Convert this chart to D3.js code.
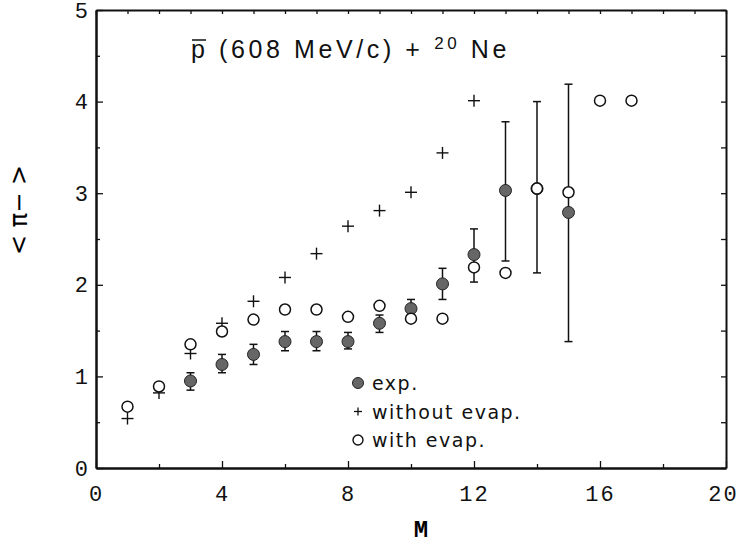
<!DOCTYPE html>
<html>
<head>
<meta charset="utf-8">
<script src="https://cdn.jsdelivr.net/npm/d3@7"></script>
<style>
  body { margin: 0; background: #fff; }
  .tick text { font-family: "Liberation Mono", "DejaVu Sans Mono", monospace; font-size: 22px; fill: #111; }
  .legend text { font-family: "DejaVu Sans", sans-serif; font-size: 19px; letter-spacing: 1.5px; fill: #111; }
</style>
</head>
<body>
<svg id="chart" width="739" height="545"></svg>
<script>
// multiplicity M
var mPlus = [1, 2, 3, 4, 5, 6, 7, 8, 9, 10, 11, 12];
var withoutEvap = [0.54, 0.82, 1.25, 1.58, 1.82, 2.08, 2.34, 2.64, 2.81, 3.01, 3.44, 4.01];

var mOpen = [1, 2, 3, 4, 5, 6, 7, 8, 9, 10, 11, 12, 13, 14, 15, 16, 17];
var withEvap = [0.67, 0.89, 1.35, 1.49, 1.62, 1.73, 1.73, 1.65, 1.77, 1.63, 1.63, 2.19, 2.13, 3.05, 3.01, 4.01, 4.01];

var mExp = [3, 4, 5, 6, 7, 8, 9, 10, 11, 12, 13, 14, 15];
var expVal = [0.95, 1.13, 1.24, 1.38, 1.38, 1.38, 1.58, 1.74, 2.01, 2.33, 3.03, 3.05, 2.79];
var expLo  = [0.85, 1.04, 1.13, 1.28, 1.28, 1.30, 1.48, 1.65, 1.84, 2.03, 2.26, 2.13, 1.38];
var expHi  = [1.04, 1.24, 1.35, 1.49, 1.49, 1.48, 1.67, 1.84, 2.18, 2.61, 3.78, 4.00, 4.19];

var xMajor = [0, 4, 8, 12, 16, 20];
var xMinor = [2, 6, 10, 14, 18];
var yMajor = [0, 1, 2, 3, 4, 5];
var yMinor = [0.5, 1.5, 2.5, 3.5, 4.5];

var legendItems = ['exp.', 'without evap.', 'with evap.'];

var svg = d3.select('#chart');
var margin = {left: 96, right: 13, top: 10, bottom: 77};
var width = +svg.attr('width');
var height = +svg.attr('height');

var x = d3.scaleLinear().domain([0, 20]).range([margin.left, width - margin.right]);
var y = d3.scaleLinear().domain([0, 5]).range([height - margin.bottom, margin.top]);

// axes (ticks point inward)
var gx = svg.append('g').attr('transform', `translate(0,${y(0)})`)
    .call(d3.axisBottom(x).tickValues(xMajor).tickSize(-7).tickSizeOuter(0).tickPadding(17).tickFormat(d3.format('d')));
svg.append('g').attr('transform', `translate(0,${y(0)})`)
    .call(d3.axisBottom(x).tickValues(xMinor).tickSize(-4).tickSizeOuter(0).tickFormat(''));
svg.append('g').attr('transform', `translate(0,${y(5)})`)
    .call(d3.axisTop(x).ticks(20).tickSize(-4).tickSizeOuter(0).tickFormat(''));

var gy = svg.append('g').attr('transform', `translate(${x(0)},0)`)
    .call(d3.axisLeft(y).tickValues(yMajor).tickSize(-7).tickSizeOuter(0).tickPadding(8).tickFormat(d3.format('d')));
svg.append('g').attr('transform', `translate(${x(0)},0)`)
    .call(d3.axisLeft(y).tickValues(yMinor).tickSize(-4).tickSizeOuter(0).tickFormat(''));
svg.append('g').attr('transform', `translate(${x(20)},0)`)
    .call(d3.axisRight(y).tickValues(yMajor.concat(yMinor)).tickSize(-5).tickSizeOuter(0).tickFormat(''));

svg.selectAll('.domain').attr('stroke', '#111').attr('stroke-width', 2);
svg.selectAll('.tick line').attr('stroke', '#111').attr('stroke-width', 1.3);
gx.selectAll('.tick text').attr('letter-spacing', '2px');
gx.selectAll('.tick text').filter(d => d === 20).attr('dx', -3);

// axis titles
svg.append('text').text('M')
    .attr('x', 421).attr('y', 537)
    .attr('text-anchor', 'middle')
    .style('font-family', '"Liberation Mono", monospace')
    .style('font-weight', 'bold')
    .style('font-size', '24px');

svg.append('text').text('< π− >')
    .attr('transform', 'translate(27,210) rotate(-90)')
    .attr('text-anchor', 'middle')
    .style('font-family', '"DejaVu Sans", sans-serif')
    .style('font-size', '24px');

// title
var title = svg.append('text')
    .attr('x', 191).attr('y', 58)
    .style('font-family', '"Liberation Sans", Arial, sans-serif')
    .style('font-size', '25px')
    .style('letter-spacing', '3.6px')
    .attr('fill', '#111');
title.append('tspan').text('p');
title.append('tspan').text(' (608 MeV/c) + ');
title.append('tspan').text('20').style('font-size', '17px').attr('dy', -9);
title.append('tspan').text(' Ne').attr('dy', 9);
svg.append('line')
    .attr('x1', 192).attr('x2', 206).attr('y1', 40).attr('y2', 40)
    .attr('stroke', '#111').attr('stroke-width', 1.5);

var plot = svg.append('g');

// plus markers: without evaporation
function plus(g, cx, cy, s) {
    g.append('line').attr('x1', cx - s).attr('x2', cx + s).attr('y1', cy).attr('y2', cy);
    g.append('line').attr('x1', cx).attr('x2', cx).attr('y1', cy - s).attr('y2', cy + s);
}
var plusG = plot.append('g').attr('stroke', '#111').attr('stroke-width', 1.4);
mPlus.forEach((m, i) => plus(plusG, x(m), y(withoutEvap[i]), 6));

// error bars
var errG = plot.append('g').attr('stroke', '#111').attr('stroke-width', 1.5);
mExp.forEach((m, i) => {
    errG.append('line').attr('x1', x(m)).attr('x2', x(m)).attr('y1', y(expLo[i])).attr('y2', y(expHi[i]));
    [expLo[i], expHi[i]].forEach(v => {
        errG.append('line').attr('x1', x(m) - 4).attr('x2', x(m) + 4).attr('y1', y(v)).attr('y2', y(v));
    });
});

// filled circles: experiment
plot.append('g').selectAll('circle').data(mExp).enter().append('circle')
    .attr('cx', d => x(d))
    .attr('cy', (d, i) => y(expVal[i]))
    .attr('r', 6)
    .attr('fill', '#666')
    .attr('stroke', '#222')
    .attr('stroke-width', 1);

// open circles: with evaporation
plot.append('g').selectAll('circle').data(mOpen).enter().append('circle')
    .attr('cx', d => x(d))
    .attr('cy', (d, i) => y(withEvap[i]))
    .attr('r', 5.5)
    .attr('fill', '#fff')
    .attr('stroke', '#111')
    .attr('stroke-width', 1.5);

// legend
var legend = svg.append('g').attr('class', 'legend');
legendItems.forEach((t, i) => {
    var ly = 383 + i * 28.5;
    if (i === 0) {
        legend.append('circle').attr('cx', 358).attr('cy', ly).attr('r', 5.5)
            .attr('fill', '#666').attr('stroke', '#222');
    } else if (i === 1) {
        var pg = legend.append('g').attr('stroke', '#111').attr('stroke-width', 1.3);
        plus(pg, 358, ly, 4);
    } else {
        legend.append('circle').attr('cx', 358).attr('cy', ly).attr('r', 5)
            .attr('fill', '#fff').attr('stroke', '#111').attr('stroke-width', 1.4);
    }
    legend.append('text').text(t).attr('x', 372).attr('y', ly + 7);
});
</script>
</body>
</html>
